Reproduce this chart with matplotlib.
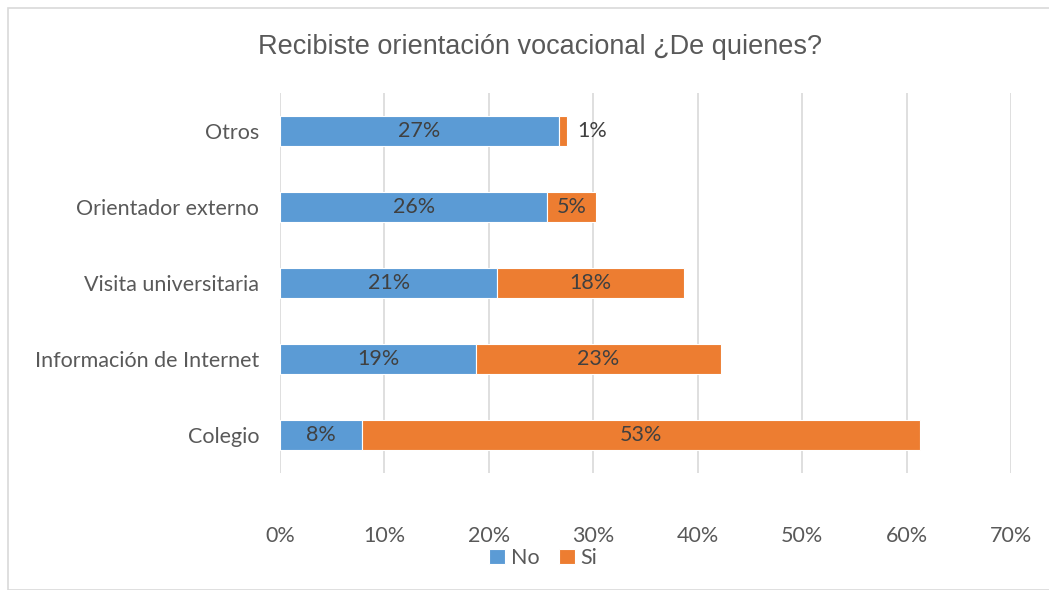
import numpy as np
import matplotlib
matplotlib.use("Agg")
import matplotlib.pyplot as plt
from matplotlib.patches import Rectangle

categorias = ["Colegio", "Información de Internet", "Visita universitaria",
              "Orientador externo", "Otros"]
no = [7.9, 18.8, 20.8, 25.6, 26.7]
si = [53.4, 23.4, 17.9, 4.7, 0.8]
ticks = [0, 10, 20, 30, 40, 50, 60, 70]

gris = "#595959"
azul = "#5B9BD5"
naranja = "#ED7D31"
plt.rcParams['font.family'] = ['Lato', 'DejaVu Sans']

fig = plt.figure(figsize=(10.49, 5.9), dpi=100)
ax = fig.add_axes([280/1049, 1-473/590, (1011-280)/1049, 380/590])
fig.patches.append(Rectangle((8/1049, 0), 1, 1-8/590, transform=fig.transFigure,
                             fill=False, edgecolor="#D9D9D9", lw=1.2))

y = np.arange(len(categorias))
b1 = ax.barh(y, no, height=0.4, color=azul, edgecolor="white", lw=0.8, label="No", zorder=3)
b2 = ax.barh(y, si, left=no, height=0.4, color=naranja, edgecolor="white", lw=0.8, label="Si", zorder=3)

for i in range(len(y)):
    ax.text(no[i] / 2, y[i], "%d%%" % round(no[i]), ha="center", va="center",
            fontsize=15.5, color="#404040", zorder=4)
    if si[i] < 2:
        ax.text(no[i] + si[i] + 2.4, y[i], "%d%%" % round(si[i]), ha="center", va="center",
                fontsize=15.5, color="#404040", zorder=4)
    else:
        ax.text(no[i] + si[i] / 2, y[i], "%d%%" % round(si[i]), ha="center", va="center",
                fontsize=15.5, color="#404040", zorder=4)

ax.set_xlim(0, 70)
ax.set_ylim(-0.5, 4.5)
ax.set_xticks(ticks)
ax.set_xticklabels(["%d%%" % t for t in ticks])
ax.set_yticks(y)
ax.set_yticklabels(categorias)
ax.tick_params(axis="both", length=0, labelsize=15.5, labelcolor=gris)
ax.tick_params(axis="x", pad=38)
ax.tick_params(axis="y", pad=15)
ax.grid(axis="x", color="#D9D9D9", lw=1.2, zorder=0)
for s in ax.spines.values():
    s.set_visible(False)

fig.text(540/1049, 1-47/590, "Recibiste orientación vocacional ¿De quienes?",
         ha="center", va="center", fontsize=19.5, color=gris, family="Liberation Sans")

ax.legend(loc="center", bbox_to_anchor=(543/1049, 1-558/590), bbox_transform=fig.transFigure,
          ncol=2, frameon=False, fontsize=15.5, labelcolor=gris, handlelength=0.75,
          handleheight=0.75, handletextpad=0.25, columnspacing=0.9)

fig.savefig("out.png", dpi=100)
